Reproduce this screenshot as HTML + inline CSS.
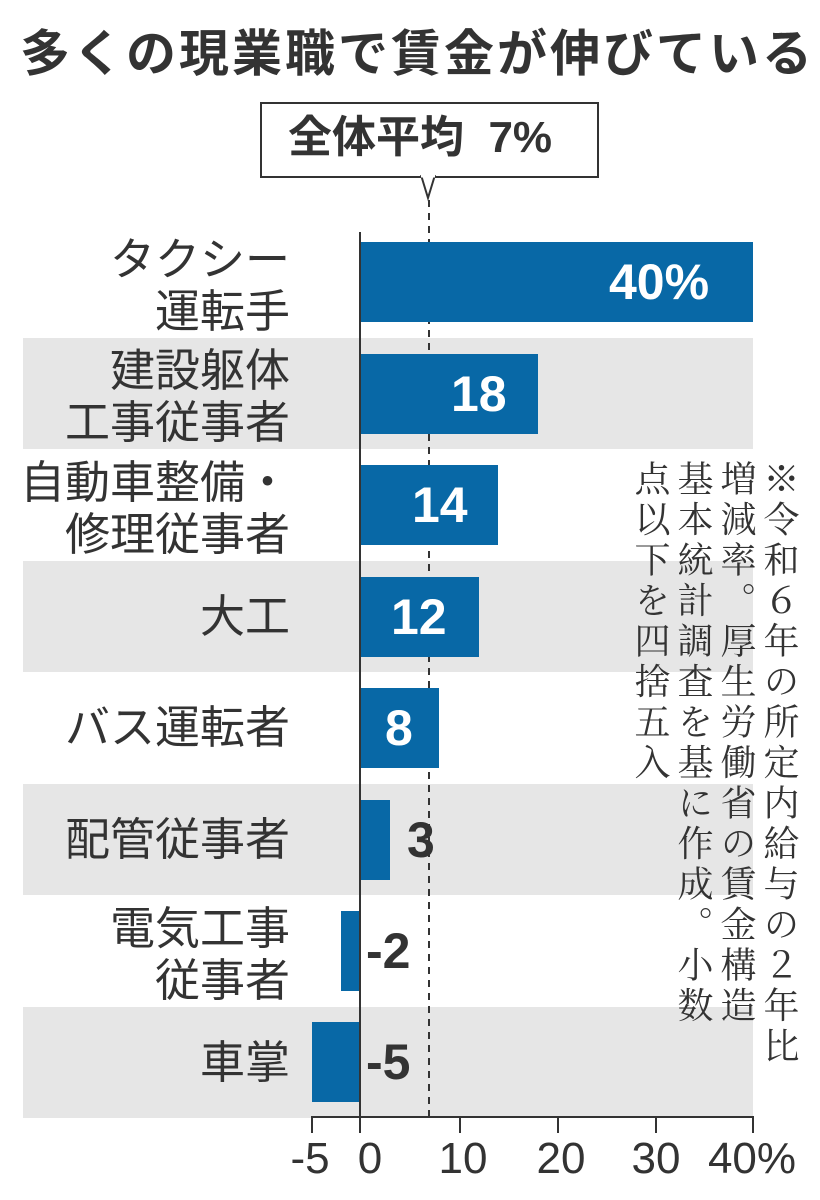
<!DOCTYPE html>
<html><head><meta charset="utf-8"><style>
body{margin:0;width:820px;height:1200px;background:#fff;position:relative;overflow:hidden;font-family:"Liberation Sans","Noto Sans CJK JP",sans-serif;color:#333}
.a{position:absolute}
.band{position:absolute;left:23px;width:730px;height:111px;background:#e6e6e6}
.bar{position:absolute;height:80px;background:#0868a6}
.lab{position:absolute;right:530px;text-align:right;font-size:45px;line-height:52px;color:#333;white-space:nowrap}
.val{position:absolute;font-size:50px;font-weight:bold;line-height:56px;white-space:nowrap}
.tick{position:absolute;top:1117px;width:2px;height:16px;background:#333}
.tl{position:absolute;top:1134px;font-size:44px;line-height:50px;color:#333;transform:translateX(-50%)}
.note{position:absolute;top:460px;writing-mode:vertical-rl;font-family:"Liberation Serif","Noto Serif CJK SC",serif;font-size:36px;line-height:43px;letter-spacing:4.5px;color:#333;white-space:nowrap}
</style></head><body>
<div class="a" style="left:20px;top:14px;font-size:50px;font-weight:bold;letter-spacing:3px;color:#333;white-space:nowrap">多くの現業職で賃金が伸びている</div>

<div class="band" style="top:338px"></div>
<div class="band" style="top:561px"></div>
<div class="band" style="top:784px"></div>
<div class="band" style="top:1007px"></div>

<div class="a" style="left:260px;top:102px;width:335px;height:72px;border:2px solid #333;background:#fff"></div>
<div class="a" style="left:288px;top:110px;font-size:44px;font-weight:bold;line-height:56px;white-space:nowrap">全体平均&nbsp;&nbsp;7%</div>
<svg class="a" style="left:0;top:0" width="820" height="1200">
<polyline points="421,175 428,198 435,175" fill="#fff" stroke="#333" stroke-width="2"/>
<line x1="421" y1="176" x2="435" y2="176" stroke="#fff" stroke-width="3"/>
<line x1="429" y1="200" x2="429" y2="1117" stroke="#333" stroke-width="2" stroke-dasharray="7,6"/>
</svg>

<div class="bar" style="left:361px;top:242px;width:392px"></div>
<div class="bar" style="left:361px;top:354px;width:177px"></div>
<div class="bar" style="left:361px;top:465px;width:137px"></div>
<div class="bar" style="left:361px;top:577px;width:118px"></div>
<div class="bar" style="left:361px;top:688px;width:78px"></div>
<div class="bar" style="left:361px;top:800px;width:29px"></div>
<div class="bar" style="left:341px;top:911px;width:19px"></div>
<div class="bar" style="left:312px;top:1022px;width:48px"></div>
<div class="a" style="left:359px;top:232px;width:2px;height:885px;background:#333"></div>
<div class="a" style="left:311px;top:1116px;width:443px;height:2px;background:#333"></div>

<div class="val" style="left:609px;top:254px;color:#fff">40%</div>
<div class="val" style="left:451px;top:366px;color:#fff">18</div>
<div class="val" style="left:412px;top:477px;color:#fff">14</div>
<div class="val" style="left:391px;top:589px;color:#fff">12</div>
<div class="val" style="left:385px;top:700px;color:#fff">8</div>
<div class="val" style="left:407px;top:812px;color:#333">3</div>
<div class="val" style="left:366px;top:923px;color:#333">-2</div>
<div class="val" style="left:366px;top:1034px;color:#333">-5</div>

<div class="lab" style="top:234px">タクシー<br>運転手</div>
<div class="lab" style="top:345px">建設躯体<br>工事従事者</div>
<div class="lab" style="top:457px">自動車整備・<br>修理従事者</div>
<div class="lab" style="top:591px">大工</div>
<div class="lab" style="top:702px">バス運転者</div>
<div class="lab" style="top:814px">配管従事者</div>
<div class="lab" style="top:903px">電気工事<br>従事者</div>
<div class="lab" style="top:1037px">車掌</div>

<div class="note" style="right:20px">※令和６年の所定内給与の２年比<br>増減率。厚生労働省の賃金構造<br>基本統計調査を基に作成。小数<br>点以下を四捨五入</div>

<div class="tick" style="left:311px"></div>
<div class="tick" style="left:359px"></div>
<div class="tick" style="left:459px"></div>
<div class="tick" style="left:557px"></div>
<div class="tick" style="left:655px"></div>
<div class="tick" style="left:752px"></div>
<div class="tl" style="left:310px">-5</div>
<div class="tl" style="left:370px">0</div>
<div class="tl" style="left:463px">10</div>
<div class="tl" style="left:561px">20</div>
<div class="tl" style="left:656px">30</div>
<div class="tl" style="left:752px">40%</div>
</body></html>
